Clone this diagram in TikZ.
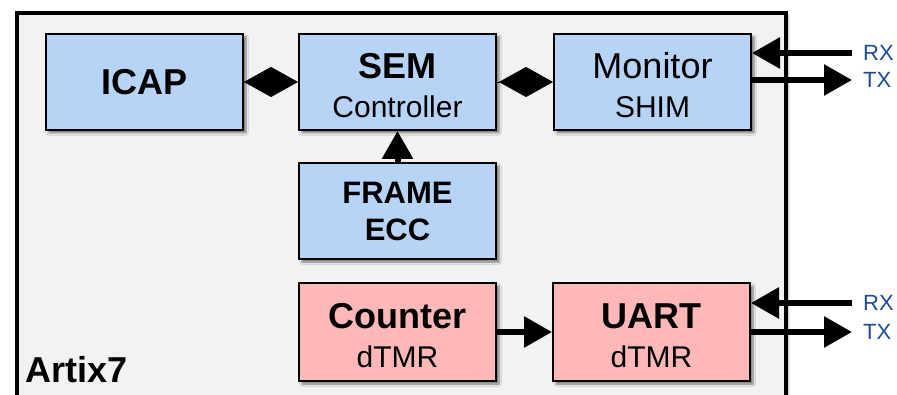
\documentclass[tikz,border=0pt]{standalone}
\usepackage{fontspec}
\setmainfont{Liberation Sans}
\usetikzlibrary{positioning,arrows.meta,shadows.blur}

\definecolor{chipgray}{HTML}{F2F2F2}
\definecolor{semblue}{HTML}{B7D4F7}
\definecolor{tmrred}{HTML}{FFB8B8}
\definecolor{sigblue}{HTML}{1F4A94}

\begin{document}
\begin{tikzpicture}[x=1pt,y=-1pt]
            \tikzset{
                block/.style={rectangle,draw=black,line width=2pt,minimum width=197,minimum height=96,
                    align=center,font=\fontsize{30}{39}\selectfont,
                    blur shadow={shadow xshift=3pt,shadow yshift=-3pt,shadow blur steps=6,shadow opacity=50}},
                two line/.style={text height=71pt},
                sem block/.style={block,fill=semblue},
                tmr block/.style={block,fill=tmrred},
                link/.style={line width=6pt,-{Triangle[length=28pt,width=30pt]}},
                rhomb link/.style={line width=0.5pt,-{Diamond[length=54pt,width=30pt]}},
                pin/.style={anchor=west,inner xsep=11pt,inner ysep=0pt,text=sigblue,font=\fontsize{22}{24}\selectfont}
            }
            \useasboundingbox (0,0) rectangle (897,395);
            % the FPGA itself, its lower edge runs off the page
            \node[rectangle,draw=black,line width=4pt,fill=chipgray,anchor=north west,
                minimum width=769,minimum height=420,
                blur shadow={shadow xshift=2pt,shadow yshift=-2pt,shadow opacity=35}] (artix) at (15,11) {};
            \node[anchor=base west,inner sep=0,font=\fontsize{36}{40}\selectfont\bfseries] (artixname) at (25,382) {Artix7};

            % scrubber chain
            \node[sem block,font=\fontsize{36}{40}\selectfont\bfseries] (icap) at (144.5,82) {ICAP};
            \node[sem block,two line,right=54pt of icap] (sem) {{\fontsize{36}{39}\selectfont\bfseries SEM}\\Controller};
            \node[sem block,two line,right=56pt of sem] (monitor) {{\fontsize{36}{39}\selectfont Monitor}\\SHIM};
            \node[sem block,below=31pt of sem,font=\fontsize{31}{37}\selectfont\bfseries] (frame) {FRAME\\ECC};

            % design under test
            \node[tmr block,two line,below=22pt of frame,minimum height=98] (counter) {{\fontsize{36}{39}\selectfont\bfseries Counter}\\dTMR};
            \node[tmr block,two line,right=55pt of counter,minimum height=98] (uart) {{\fontsize{36}{39}\selectfont\bfseries UART}\\dTMR};

            % serial pins
            \node[pin] (rxmon) at (852,53) {RX};
            \node[pin] (txmon) at (852,80) {TX};
            \node[pin] (rxuart) at (852,303) {RX};
            \node[pin] (txuart) at (852,332) {TX};

            \draw[rhomb link] (icap) -- (sem);
            \draw[rhomb link] (sem) -- (monitor);
            \draw[link] (frame) -- (sem);
            \draw[link] (counter) -- (uart);

            \draw[link] (rxmon.west) -- (monitor.east |- rxmon.west);
            \draw[link] (monitor.east |- txmon.west) -- (txmon.west);
            \draw[link] (rxuart.west) -- (uart.east |- rxuart.west);
            \draw[link] (uart.east |- txuart.west) -- (txuart.west);
        \end{tikzpicture}
\end{document}
